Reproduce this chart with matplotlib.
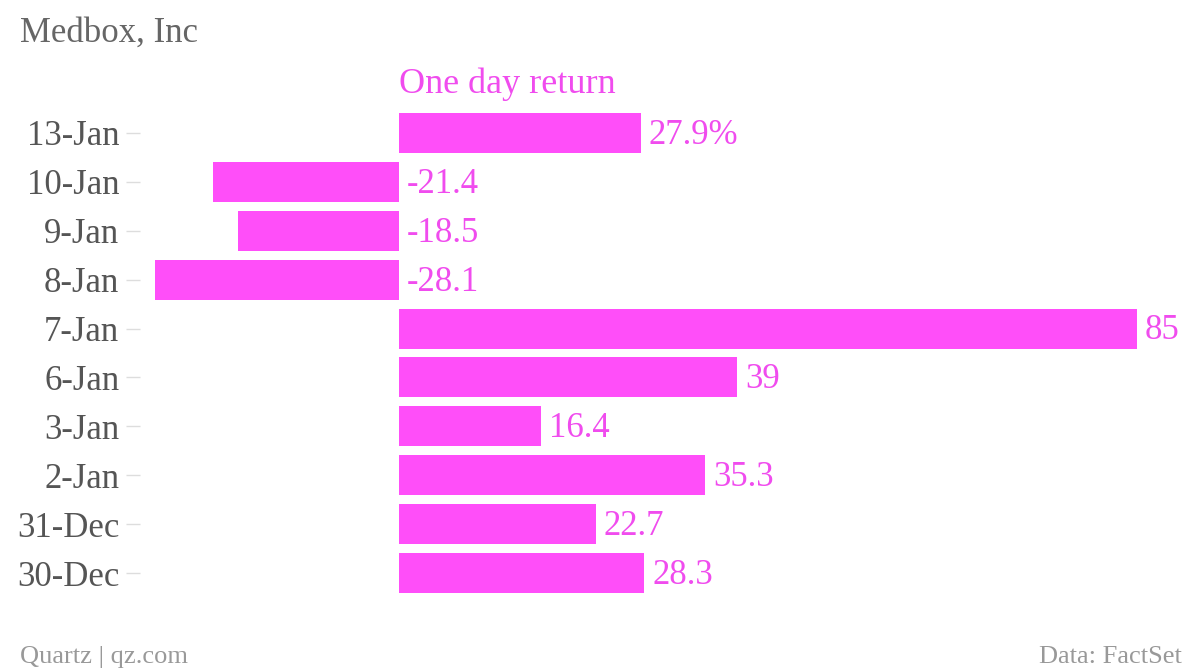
import numpy as np
import matplotlib.pyplot as plt

# data, top row first
dates = ['13-Jan', '10-Jan', '9-Jan', '8-Jan', '7-Jan', '6-Jan', '3-Jan', '2-Jan', '31-Dec', '30-Dec']
returns = [27.9, -21.4, -18.5, -28.1, 85, 39, 16.4, 35.3, 22.7, 28.3]
value_labels = ['27.9%', '-21.4', '-18.5', '-28.1', '85', '39', '16.4', '35.3', '22.7', '28.3']

bar_color = '#ff4ef9'
text_color = '#f04cee'
plt.rcParams['font.family'] = ['Liberation Serif', 'DejaVu Serif']

fig = plt.figure(figsize=(12, 6.72), dpi=100)
ax = fig.add_axes([140 / 1200, 1 - 597.5 / 672, 1060 / 1200, 489 / 672])

y = np.arange(len(dates))[::-1]
ax.barh(y, returns, height=0.82, color=bar_color)

# labels sit right of the bar end (or right of zero for negatives)
for yi, v, lab in zip(y, returns, value_labels):
    x = max(v, 0) + 0.9
    ax.text(x, yi - 0.05, lab, va='center', ha='left', fontsize=25, color=text_color)

ax.set_xlim(-29.8, 92.3)
ax.set_ylim(-0.5, len(dates) - 0.5)
ax.set_yticks(y)
ax.set_yticklabels(dates, fontsize=25, color='#555555')
ax.tick_params(axis='y', length=10, width=1, color='#dddddd', pad=5)
ax.set_xticks([])
for s in ax.spines.values():
    s.set_visible(False)

ax.text(0, 10.0, 'One day return', ha='left', va='center', fontsize=26, color=text_color)

fig.text(20 / 1200, 1 - 33 / 672, 'Medbox, Inc', ha='left', va='center', fontsize=25, color='#666666')
fig.text(20 / 1200, 1 - 657 / 672, 'Quartz | qz.com', ha='left', va='center', fontsize=19, color='#999999')
fig.text(1182 / 1200, 1 - 657 / 672, 'Data: FactSet', ha='right', va='center', fontsize=19, color='#999999')

fig.savefig('out.png', dpi=100, facecolor='white')
